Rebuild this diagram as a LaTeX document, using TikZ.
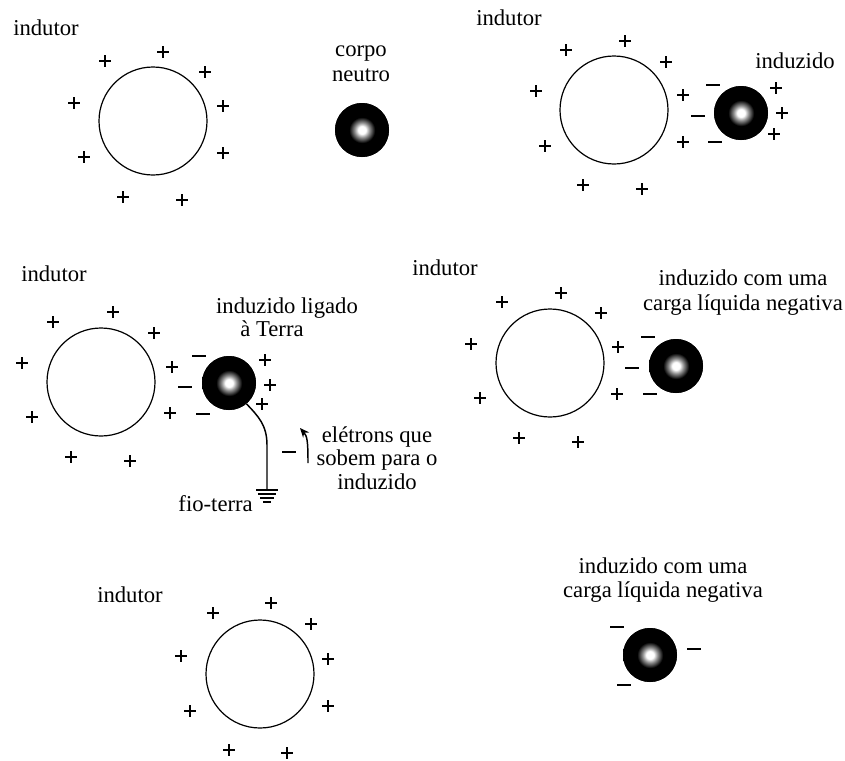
\documentclass[tikz,border=0pt]{standalone}
\usepackage{fontspec}
\setmainfont{Liberation Serif}
\usetikzlibrary{arrows.meta,calc}
\pgfdeclareradialshading{spotshade}{\pgfpoint{0bp}{0bp}}{%
  color(0bp)=(white); color(3.5bp)=(white); color(7bp)=(black!45); color(12bp)=(black); color(50bp)=(black)}
\begin{document}
\begin{tikzpicture}[x=0.75pt,y=-0.75pt,
  txt/.style={font=\fontsize{17}{20}\selectfont, inner sep=0pt},
  ind/.style={circle, draw, line width=0.9pt, minimum size=81pt, inner sep=0pt},
  ball/.style={circle, fill=black, minimum size=40.5pt, inner sep=0pt,
    path picture={\shade[shading=spotshade]
      (path picture bounding box.center) circle (27);}},
  chg/.style={line width=1.1pt},
  neg/.style={line width=1.5pt},
  pl/.pic={\draw[chg] (-6,0) -- (6,0) (0,-6) -- (0,6);},
  mn/.pic={\draw[neg] (-7,0) -- (7,0);}]
\useasboundingbox (0,0) rectangle (845,760);

% ---------- panel 1 ----------
\node[txt, anchor=base west] (t1) at (13,36) {indutor};
\node[ind] (c1) at (153,121) {};
\foreach \p in {(105,61),(163,52),(205,72),(74,103),(223,106),(84,157),(223,153),(123,197),(182,200)}
  \pic at \p {pl};
\node[txt, anchor=base] (t1b) at (361,56) {corpo};
\node[txt, anchor=base] (t1c) at (361,81) {neutro};
\node[ball] (b1) at (362,130) {};

% ---------- panel 2 ----------
\node[txt, anchor=base west] (t2) at (476,25) {indutor};
\node[ind] (c2) at (614,110) {};
\foreach \p in {(566,50),(625,41),(666,62),(536,91),(683,95),(545,146),(683,142),(583,185),(642,189)}
  \pic at \p {pl};
\node[ball] (b2) at (741,113) {};
\foreach \p in {(713,85),(698,116),(715,142)} \pic at \p {mn};
\foreach \p in {(776,88),(782,113),(774,134)} \pic at \p {pl};
\node[txt, anchor=base] (t2b) at (795,68) {induzido};

% ---------- panel 3 ----------
\node[txt, anchor=base west] (t3) at (21,281) {indutor};
\node[ind] (c3) at (101,382) {};
\foreach \p in {(53,322),(113,312),(154,333),(22,363),(172,367),(32,417),(170,413),(71,457),(130,461)}
  \pic at \p {pl};
\node[ball] (b3) at (229,383) {};
\foreach \p in {(199,356),(185,387),(203,414)} \pic at \p {mn};
\foreach \p in {(265,360),(270,385),(262,404)} \pic at \p {pl};
\node[txt, anchor=base] (t3b) at (287,313) {induzido ligado};
\node[txt, anchor=base] (t3c) at (272,336) {à Terra};
\coordinate (g3) at (267,490);
\draw[line width=1.1pt] (b3.-50) .. controls (258,416) and (267,425) .. (267,445) -- (g3);
\draw[line width=1.6pt] ($(g3)+(-11,0)$) -- ($(g3)+(11,0)$)
  ($(g3)+(-9,4)$) -- ($(g3)+(9,4)$)
  ($(g3)+(-7,8)$) -- ($(g3)+(7,8)$)
  ($(g3)+(-4,12)$) -- ($(g3)+(4,12)$);
\node[txt, anchor=base east] (t3f) at (253,511) {fio-terra};
\pic at (289,452) {mn};
\coordinate (a0) at (308,463);
\coordinate (a1) at (300,428);
\draw[line width=1.1pt, -{Stealth[length=7pt,width=6pt]}] (a0) .. controls (308,440) and (307,436) .. (a1);
\node[txt, anchor=base] (t3e) at (377,442) {elétrons que};
\node[txt, anchor=base] (t3s) at (377,465) {sobem para o};
\node[txt, anchor=base] (t3i) at (377,489) {induzido};

% ---------- panel 4 ----------
\node[txt, anchor=base west] (t4) at (412,275) {indutor};
\node[ind] (c4) at (550,363) {};
\foreach \p in {(502,302),(561,293),(601,313),(471,344),(618,347),(480,398),(617,394),(519,438),(578,442)}
  \pic at \p {pl};
\node[ball] (b4) at (676,366) {};
\foreach \p in {(648,337),(632,368),(650,394)} \pic at \p {mn};
\node[txt, anchor=base] (t4b) at (743,285) {induzido com uma};
\node[txt, anchor=base] (t4c) at (743,310) {carga líquida negativa};

% ---------- panel 5 ----------
\node[txt, anchor=base west] (t5) at (97,602) {indutor};
\node[ind] (c5) at (260,674) {};
\foreach \p in {(213,613),(271,603),(311,624),(181,656),(328,659),(190,711),(328,706),(229,750),(287,753)}
  \pic at \p {pl};
\node[ball] (b5) at (650,655) {};
\foreach \p in {(617,627),(694,649),(624,685)} \pic at \p {mn};
\node[txt, anchor=base] (t5b) at (663,573) {induzido com uma};
\node[txt, anchor=base] (t5c) at (663,597) {carga líquida negativa};
\end{tikzpicture}
\end{document}
